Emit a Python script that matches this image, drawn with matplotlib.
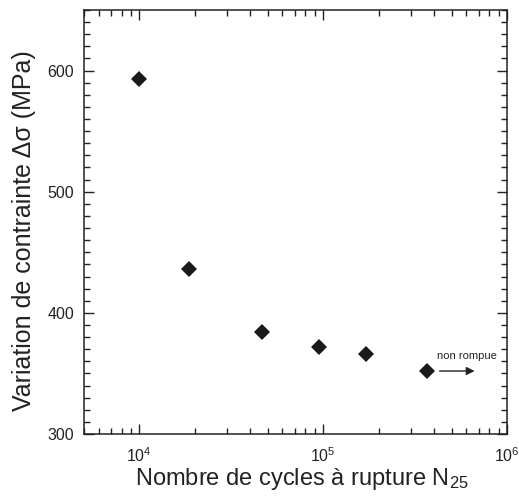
import numpy as np
import matplotlib
matplotlib.use("Agg")
import matplotlib.pyplot as plt
from matplotlib.ticker import LogLocator, FixedLocator, MultipleLocator, FuncFormatter

plt.rcParams["font.family"] = ["Liberation Sans", "DejaVu Sans"]
plt.rcParams["mathtext.fontset"] = "custom"
plt.rcParams["mathtext.rm"] = "Liberation Sans"
plt.rcParams["mathtext.default"] = "regular"

# fatigue data
cycles = [10000, 18700, 46500, 95000, 170000, 365000]
stress = [593, 436, 384, 372, 366, 352]
runout_label = "non rompue"

fig = plt.figure(figsize=(5.19, 4.97), dpi=100)
ax = fig.add_axes([84 / 519, 63 / 497, 423 / 519, 424 / 497])

ax.plot(cycles, stress, linestyle="none", marker="D", markersize=8.5,
        color="#1a1a1a", markeredgewidth=0)

ax.set_xscale("log")
ax.set_xlim(5000, 1e6)
ax.set_ylim(300, 650)

ax.xaxis.set_major_locator(FixedLocator([1e4, 1e5, 1e6]))
ax.xaxis.set_minor_locator(LogLocator(base=10, subs=np.arange(2, 10), numticks=20))
ax.xaxis.set_major_formatter(
    FuncFormatter(lambda v, p: "10$^{%d}$" % int(round(np.log10(v)))))
ax.xaxis.set_minor_formatter(FuncFormatter(lambda v, p: ""))
ax.yaxis.set_major_locator(FixedLocator([300, 400, 500, 600]))
ax.yaxis.set_minor_locator(MultipleLocator(10))

ax.tick_params(which="both", direction="in", top=True, right=True,
               labelsize=11.5, colors="#222222", width=1)
ax.tick_params(which="major", length=7, pad=7)
ax.tick_params(which="minor", length=4)
ax.tick_params(axis="x", which="major", pad=9)
for s in ax.spines.values():
    s.set_linewidth(1.1)
    s.set_color("#222222")

ax.set_xlabel("Nombre de cycles à rupture N$_{25}$", fontsize=17, color="#222222")
ax.set_ylabel("Variation de contrainte Δσ (MPa)", fontsize=18, color="#222222")
ax.xaxis.set_label_coords(0.515, -0.075)
ax.yaxis.set_label_coords(-0.113, 0.48)

ax.annotate("", xy=(6.9e5, stress[-1]), xytext=(4.15e5, stress[-1]),
            arrowprops=dict(arrowstyle="-|>", color="#222222", lw=1,
                            mutation_scale=12))
ax.text(4.15e5, stress[-1] + 8, runout_label, fontsize=8, color="#222222",
        ha="left", va="bottom")

fig.savefig("out.png", dpi=100)
